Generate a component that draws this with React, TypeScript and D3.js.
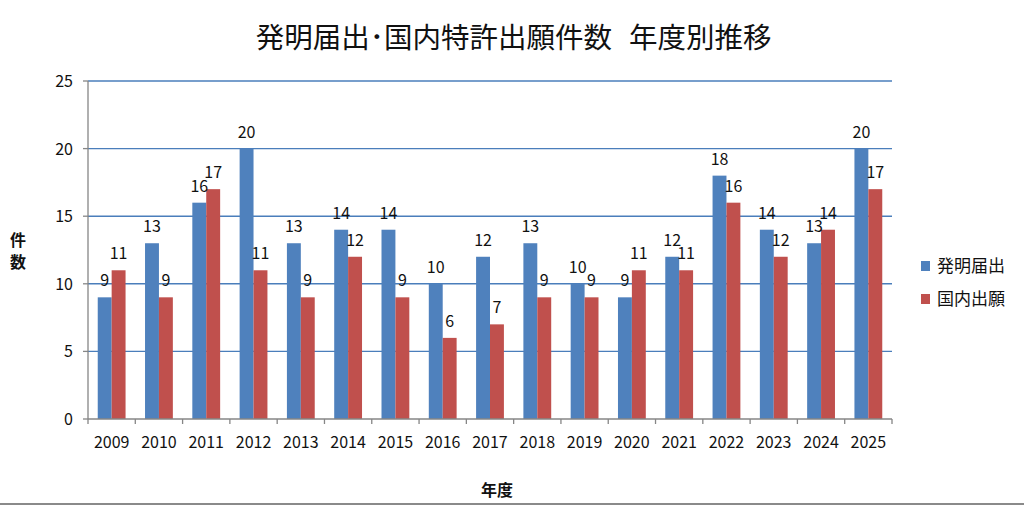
import React from "react";
import * as d3 from "d3";

const years = ["2009", "2010", "2011", "2012", "2013", "2014", "2015", "2016", "2017", "2018", "2019", "2020", "2021", "2022", "2023", "2024", "2025"];
const inventions = [9, 13, 16, 20, 13, 14, 14, 10, 12, 13, 10, 9, 12, 18, 14, 13, 20];
const filings = [11, 9, 17, 11, 9, 12, 9, 6, 7, 9, 9, 11, 11, 16, 12, 14, 17];
const seriesNames = ["発明届出", "国内出願"];
const yTicks = [0, 5, 10, 15, 20, 25];
const titleMain = "発明届出･国内特許出願件数";
const titleSub = "年度別推移";

const W = 1024;
const H = 505;
const left = 88;
const right = 892;
const top = 81;
const bottom = 419;
const blue = "#4F81BD";
const red = "#C0504D";
const font = "'Noto Sans CJK JP', 'Noto Sans', sans-serif";

const App: React.FC = () => {
  const x = d3.scaleBand<string>().domain(years).range([left, right]).padding(0);
  const y = d3.scaleLinear().domain([0, 25]).range([bottom, top]);

  const band = x.bandwidth();
  const barW = band / 3.4;
  const offset = (band - 2 * barW) / 2;

  const series = [
    { name: seriesNames[0], values: inventions, color: blue },
    { name: seriesNames[1], values: filings, color: red },
  ];

  return (
    <svg
      width={W}
      height={H}
      style={{ position: "absolute", left: 0, top: 0, background: "#fff" }}
      fontFamily={font}
    >
      <rect x={0} y={0} width={W} height={H} fill="#fff" />

      {/* title, in two pieces to get the narrower gap */}
      <text x={612} y={48} textAnchor="end" fontSize={28.5} fill="#111">
        {titleMain}
      </text>
      <text x={629} y={48} textAnchor="start" fontSize={28.5} fill="#111">
        {titleSub}
      </text>

      {/* gridlines */}
      {yTicks.filter((t) => t > 0).map((t) => (
        <line key={t} x1={left} x2={right} y1={y(t)} y2={y(t)} stroke="#4A7EBB" strokeWidth={1.4} />
      ))}

      {/* bars */}
      {series.map((s, si) =>
        years.map((yr, i) => (
          <rect
            key={s.name + yr}
            x={(x(yr) as number) + offset + si * barW}
            y={y(s.values[i])}
            width={barW}
            height={bottom - y(s.values[i])}
            fill={s.color}
          />
        ))
      )}

      {/* data labels */}
      {series.map((s, si) =>
        years.map((yr, i) => (
          <text
            key={"l" + s.name + yr}
            x={(x(yr) as number) + offset + si * barW + barW / 2}
            y={y(s.values[i]) - 11}
            textAnchor="middle"
            fontSize={16}
            fill="#111"
          >
            {s.values[i]}
          </text>
        ))
      )}

      {/* y axis */}
      <line x1={left} x2={left} y1={top} y2={bottom} stroke="#868686" strokeWidth={1.3} />
      {yTicks.map((t) => (
        <g key={"yt" + t}>
          <line x1={left - 5} x2={left} y1={y(t)} y2={y(t)} stroke="#868686" strokeWidth={1.3} />
          <text x={left - 15} y={y(t) + 6} textAnchor="end" fontSize={16} fill="#111">
            {t}
          </text>
        </g>
      ))}

      {/* x axis */}
      <line x1={left} x2={right} y1={bottom} y2={bottom} stroke="#868686" strokeWidth={1.3} />
      {years.map((yr) => (
        <line
          key={"xt" + yr}
          x1={x(yr) as number}
          x2={x(yr) as number}
          y1={bottom}
          y2={bottom + 5}
          stroke="#868686"
          strokeWidth={1.3}
        />
      ))}
      <line x1={right} x2={right} y1={bottom} y2={bottom + 5} stroke="#868686" strokeWidth={1.3} />
      {years.map((yr) => (
        <text
          key={"xl" + yr}
          x={(x(yr) as number) + band / 2}
          y={448}
          textAnchor="middle"
          fontSize={16}
          fill="#111"
        >
          {yr}
        </text>
      ))}

      {/* axis titles */}
      <text x={18} y={246} textAnchor="middle" fontSize={16} fontWeight="bold" fill="#111">件</text>
      <text x={18} y={268} textAnchor="middle" fontSize={16} fontWeight="bold" fill="#111">数</text>
      <text x={497} y={496} textAnchor="middle" fontSize={16} fontWeight="bold" fill="#111">年度</text>

      {/* legend */}
      {series.map((s, i) => (
        <g key={"lg" + s.name} transform={`translate(921, ${261 + i * 33})`}>
          <rect x={0} y={0} width={9} height={10} fill={s.color} />
          <text x={16} y={11} fontSize={17} fill="#111">
            {s.name}
          </text>
        </g>
      ))}

      {/* bottom border */}
      <rect x={0} y={503} width={W} height={2} fill="#8a8a8a" />
    </svg>
  );
};

export default App;
